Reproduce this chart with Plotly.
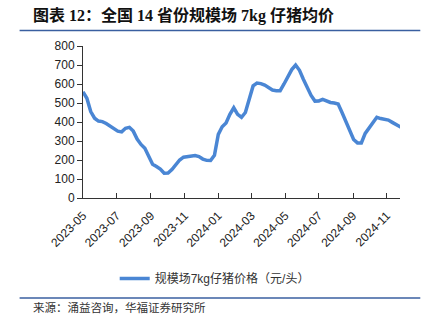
import pandas as pd
import plotly.graph_objects as go

# weekly dates starting 2023-05-01
dates = pd.date_range("2023-05-01", periods=84, freq="7D")
values = [559, 525, 455, 420, 405, 402, 392, 380, 367, 352,
          348, 367, 372, 352, 310, 282, 262, 215, 178, 166,
          152, 130, 131, 150, 175, 200, 215, 217, 222, 223,
          218, 205, 198, 197, 225, 335, 375, 395, 440, 475,
          440, 425, 450, 525, 590, 605, 602, 594, 580, 568,
          565, 565, 600, 635, 676, 700, 672, 625, 580, 540,
          510, 511, 519, 510, 503, 500, 495, 450, 402, 355,
          308, 290, 290, 340, 367, 400, 425, 418, 412, 410,
          398, 385, 375, 367]
tick_vals = ["2023-05-01", "2023-07-01", "2023-09-01", "2023-11-01", "2024-01-01",
             "2024-03-01", "2024-05-01", "2024-07-01", "2024-09-01", "2024-11-01"]
tick_text = ["2023-05", "2023-07", "2023-09", "2023-11", "2024-01",
             "2024-03", "2024-05", "2024-07", "2024-09", "2024-11"]
series_name = "规模场7kg仔猪价格（元/头）"
title_text = "图表 12：全国 14 省份规模场 7kg 仔猪均价"
source_text = "来源：涌益咨询，华福证券研究所"

fig = go.Figure()
fig.add_trace(go.Scatter(
    x=dates, y=values, mode="lines", name=series_name,
    line=dict(color="#4A86D4", width=3.5), showlegend=True,
))

axis_font = dict(family="Liberation Sans, Arial, sans-serif", size=12, color="#222")
fig.update_layout(
    width=435, height=322,
    margin=dict(l=83, r=35, t=46, b=124),
    paper_bgcolor="white", plot_bgcolor="white",
    font=dict(family="Liberation Sans, Noto Sans CJK SC, sans-serif"),
    showlegend=True,
    legend=dict(
        orientation="h", x=0.1, xanchor="left", y=-0.53, yanchor="middle",
        font=dict(family="Liberation Sans, Noto Sans CJK SC", size=12, color="#333"),
        bgcolor="rgba(0,0,0,0)", itemwidth=30,
    ),
    xaxis=dict(
        type="date", range=["2023-05-01", "2024-11-25"],
        tickvals=tick_vals, ticktext=tick_text, tickangle=-45,
        ticks="inside", ticklen=5, tickcolor="#333",
        showline=True, linecolor="#333", linewidth=1,
        showgrid=False, zeroline=False, tickfont=axis_font,
        ticklabelstandoff=5,
    ),
    yaxis=dict(
        range=[0, 800], dtick=100,
        ticks="outside", ticklen=5, tickcolor="#333",
        showline=True, linecolor="#333", linewidth=1,
        showgrid=False, zeroline=False, tickfont=axis_font,
    ),
)

fig.add_annotation(
    text="<b>" + title_text + "</b>", xref="paper", yref="paper",
    x=-0.165, y=1.2, xanchor="left", yanchor="middle", showarrow=False,
    font=dict(family="Liberation Serif, Noto Sans CJK SC", size=16, color="#111"),
)
fig.add_annotation(
    text=source_text, xref="paper", yref="paper",
    x=-0.165, y=-0.72, xanchor="left", yanchor="middle", showarrow=False,
    font=dict(family="Noto Sans CJK SC", size=11.5, color="#333"),
)
# rules under title and above source
fig.add_shape(type="line", xref="paper", yref="paper",
              x0=-0.2, x1=1.064, y0=1.102, y1=1.102,
              line=dict(color="#3A5FA0", width=1.5))
fig.add_shape(type="line", xref="paper", yref="paper",
              x0=-0.2, x1=1.064, y0=-0.658, y1=-0.658,
              line=dict(color="#3A5FA0", width=1.5))

fig.write_html("out.html")
